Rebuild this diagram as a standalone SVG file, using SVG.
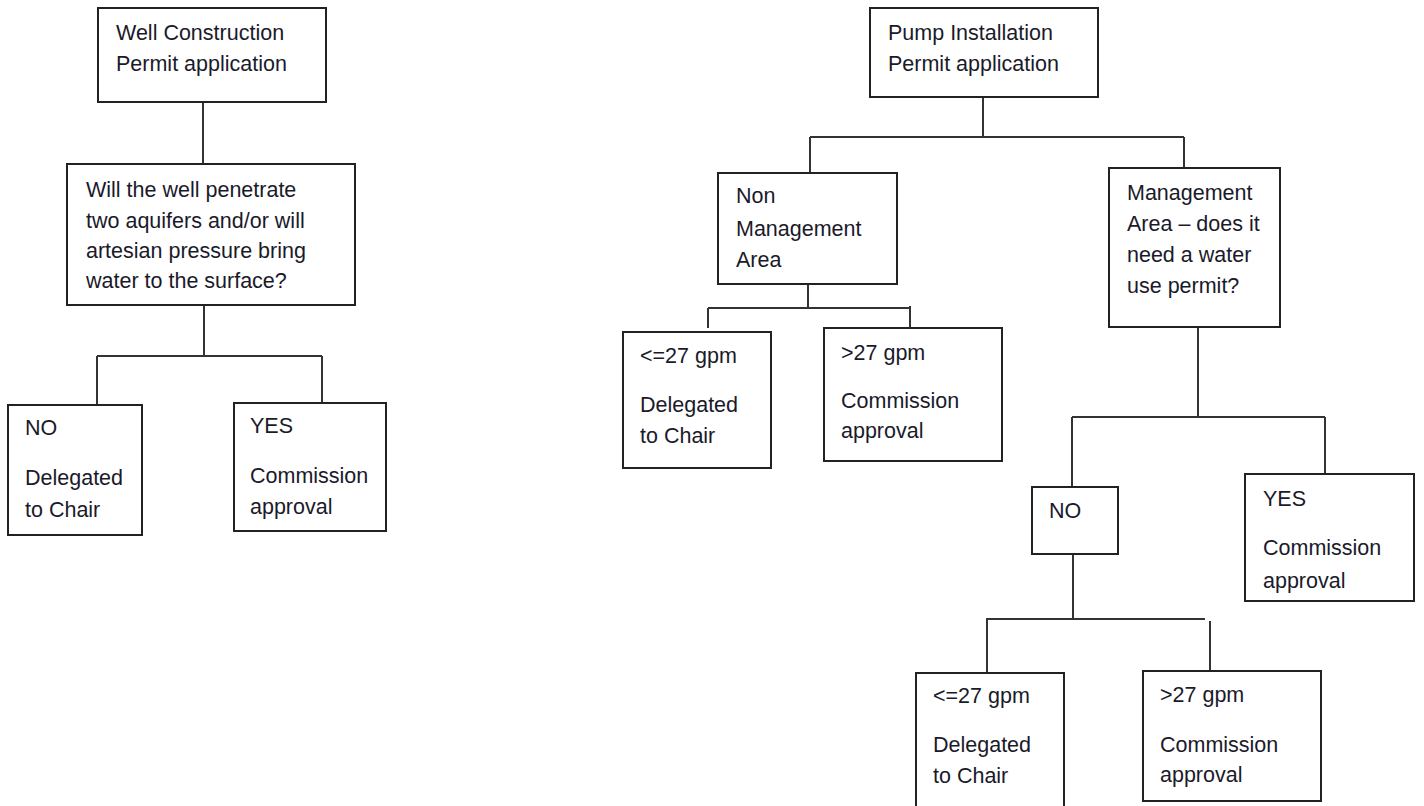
<svg xmlns="http://www.w3.org/2000/svg" width="1424" height="806" viewBox="0 0 1424 806">
<style>
.box{fill:#fff;stroke:#222;stroke-width:2}
.t{font-family:"Liberation Sans",Arial,sans-serif;font-size:21.5px;fill:#1a1a2a}
.c{fill:none;stroke:#333;stroke-width:2}
</style>
<rect width="1424" height="806" fill="#fff"/>
<g id="connectors">
<path class="c" d="M203,102 V164"/>
<path class="c" d="M204,305 V356 M97,356 H322 M97,356 V406 M322,356 V403"/>
<path class="c" d="M983,97 V137 M810,137 H1184 M810,137 V174 M1184,137 V168"/>
<path class="c" d="M808,284 V307 M708,308 H910 M708,308 V328 M910,306 V332"/>
<path class="c" d="M1198,327 V417 M1072,417 H1325 M1072,417 V488 M1325,417 V474"/>
<path class="c" d="M1073,554 V619 M986,619 H1205 M987,619 V673 M1210,621 V671"/>
</g>
<g id="well-construction">
<rect class="box" x="98" y="8" width="228" height="94"/>
<text class="t" x="116" y="40">Well Construction</text>
<text class="t" x="116" y="71">Permit application</text>
</g>
<g id="well-question">
<rect class="box" x="67" y="164" width="288" height="141"/>
<text class="t" x="86" y="197">Will the well penetrate</text>
<text class="t" x="86" y="228">two aquifers and/or will</text>
<text class="t" x="86" y="258">artesian pressure bring</text>
<text class="t" x="86" y="288">water to the surface?</text>
</g>
<g id="well-no">
<rect class="box" x="8" y="405" width="134" height="130"/>
<text class="t" x="25" y="435">NO</text>
<text class="t" x="25" y="485">Delegated</text>
<text class="t" x="25" y="517">to Chair</text>
</g>
<g id="well-yes">
<rect class="box" x="234" y="403" width="152" height="128"/>
<text class="t" x="250" y="433">YES</text>
<text class="t" x="250" y="483">Commission</text>
<text class="t" x="250" y="514">approval</text>
</g>
<g id="pump-installation">
<rect class="box" x="870" y="8" width="228" height="89"/>
<text class="t" x="888" y="40">Pump Installation</text>
<text class="t" x="888" y="71">Permit application</text>
</g>
<g id="non-management">
<rect class="box" x="718" y="173" width="179" height="111"/>
<text class="t" x="736" y="203">Non</text>
<text class="t" x="736" y="236">Management</text>
<text class="t" x="736" y="267">Area</text>
</g>
<g id="nm-le27">
<rect class="box" x="623" y="332" width="148" height="136"/>
<text class="t" x="640" y="363">&lt;=27 gpm</text>
<text class="t" x="640" y="412">Delegated</text>
<text class="t" x="640" y="443">to Chair</text>
</g>
<g id="nm-gt27">
<rect class="box" x="824" y="328" width="178" height="133"/>
<text class="t" x="841" y="360">&gt;27 gpm</text>
<text class="t" x="841" y="408">Commission</text>
<text class="t" x="841" y="438">approval</text>
</g>
<g id="management">
<rect class="box" x="1109" y="168" width="171" height="159"/>
<text class="t" x="1127" y="200">Management</text>
<text class="t" x="1127" y="231">Area – does it</text>
<text class="t" x="1127" y="262">need a water</text>
<text class="t" x="1127" y="293">use permit?</text>
</g>
<g id="m-no">
<rect class="box" x="1032" y="487" width="86" height="67"/>
<text class="t" x="1049" y="518">NO</text>
</g>
<g id="m-yes">
<rect class="box" x="1245" y="474" width="169" height="127"/>
<text class="t" x="1263" y="506">YES</text>
<text class="t" x="1263" y="555">Commission</text>
<text class="t" x="1263" y="588">approval</text>
</g>
<g id="m-le27">
<rect class="box" x="916" y="673" width="148" height="140"/>
<text class="t" x="933" y="703">&lt;=27 gpm</text>
<text class="t" x="933" y="752">Delegated</text>
<text class="t" x="933" y="783">to Chair</text>
</g>
<g id="m-gt27">
<rect class="box" x="1143" y="671" width="178" height="130"/>
<text class="t" x="1160" y="702">&gt;27 gpm</text>
<text class="t" x="1160" y="752">Commission</text>
<text class="t" x="1160" y="782">approval</text>
</g>
</svg>
